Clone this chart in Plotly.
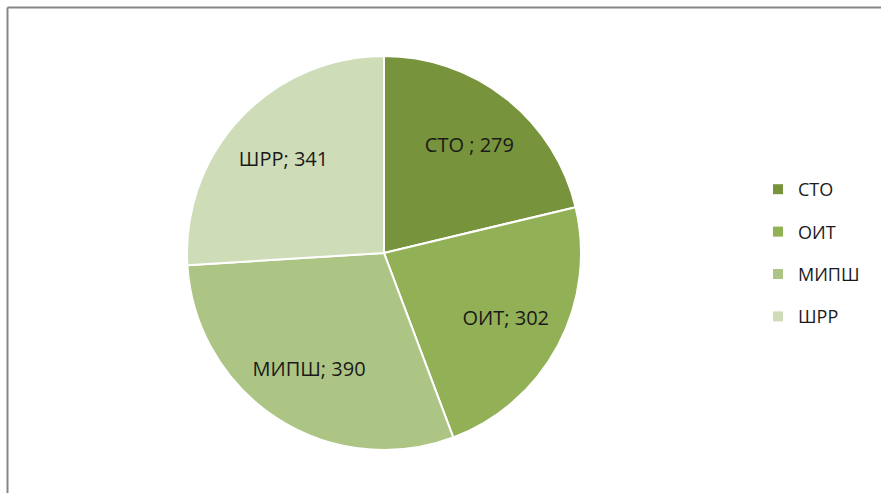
import plotly.graph_objects as go

categories = ["СТО", "ОИТ", "МИПШ", "ШРР"]
values = [279, 302, 390, 341]
label_texts = ["СТО ; 279", "ОИТ; 302", "МИПШ; 390", "ШРР; 341"]
colors = ["#77933C", "#92B055", "#ADC584", "#CFDCB8"]

W, H = 881, 493
cx, cy, r = 384, 253, 197
FONT = "Open Sans, Liberation Sans, sans-serif"
domain = dict(x=[(cx - r) / W, (cx + r) / W], y=[(H - cy - r) / H, (H - cy + r) / H])

fig = go.Figure()
# coloured slices
fig.add_trace(go.Pie(
    labels=categories,
    values=values,
    textinfo="none",
    marker=dict(colors=colors, line=dict(color="white", width=2)),
    sort=False,
    direction="clockwise",
    rotation=0,
    hoverinfo="label+value",
    showlegend=False,
    domain=domain,
))
# transparent ring carrying the data labels (places them further out, like the original)
fig.add_trace(go.Pie(
    labels=categories,
    values=values,
    text=label_texts,
    texttemplate="%{text}",
    textposition="inside",
    insidetextorientation="horizontal",
    textfont=dict(family=FONT, size=20, color="#1a1a1a"),
    marker=dict(colors=["rgba(0,0,0,0)"] * len(values), line=dict(width=0)),
    hole=0.4,
    sort=False,
    direction="clockwise",
    rotation=0,
    hoverinfo="skip",
    showlegend=False,
    domain=domain,
))

# legend entries (one per category, same colours as the slices)
for cat, col in zip(categories, colors):
    fig.add_trace(go.Scatter(
        x=[None], y=[None], mode="markers", name=cat, legendgroup=cat,
        marker=dict(symbol="square", size=10, color=col),
        showlegend=True, hoverinfo="skip",
    ))

fig.update_layout(
    width=W, height=H,
    margin=dict(l=0, r=0, t=0, b=0),
    paper_bgcolor="white",
    plot_bgcolor="white",
    xaxis=dict(visible=False, domain=[0.999, 1]),
    yaxis=dict(visible=False, domain=[0.999, 1]),
    showlegend=True,
    legend=dict(
        x=758 / W, y=(H - 171) / H, xanchor="left", yanchor="top",
        font=dict(family=FONT, size=18, color="#1a1a1a"),
        bgcolor="rgba(0,0,0,0)",
        tracegroupgap=16,
        itemsizing="trace",
        itemwidth=30,
    ),
    shapes=[
        dict(type="line", xref="paper", yref="paper", x0=7.5 / W, x1=1, y0=(H - 7.5) / H, y1=(H - 7.5) / H,
             line=dict(color="#868686", width=2)),
        dict(type="line", xref="paper", yref="paper", x0=7.5 / W, x1=7.5 / W, y0=0, y1=(H - 7.5) / H,
             line=dict(color="#868686", width=2)),
    ],
)

fig.write_html("out.html", config={"displayModeBar": False},
               post_script="document.body.style.margin='0';")
